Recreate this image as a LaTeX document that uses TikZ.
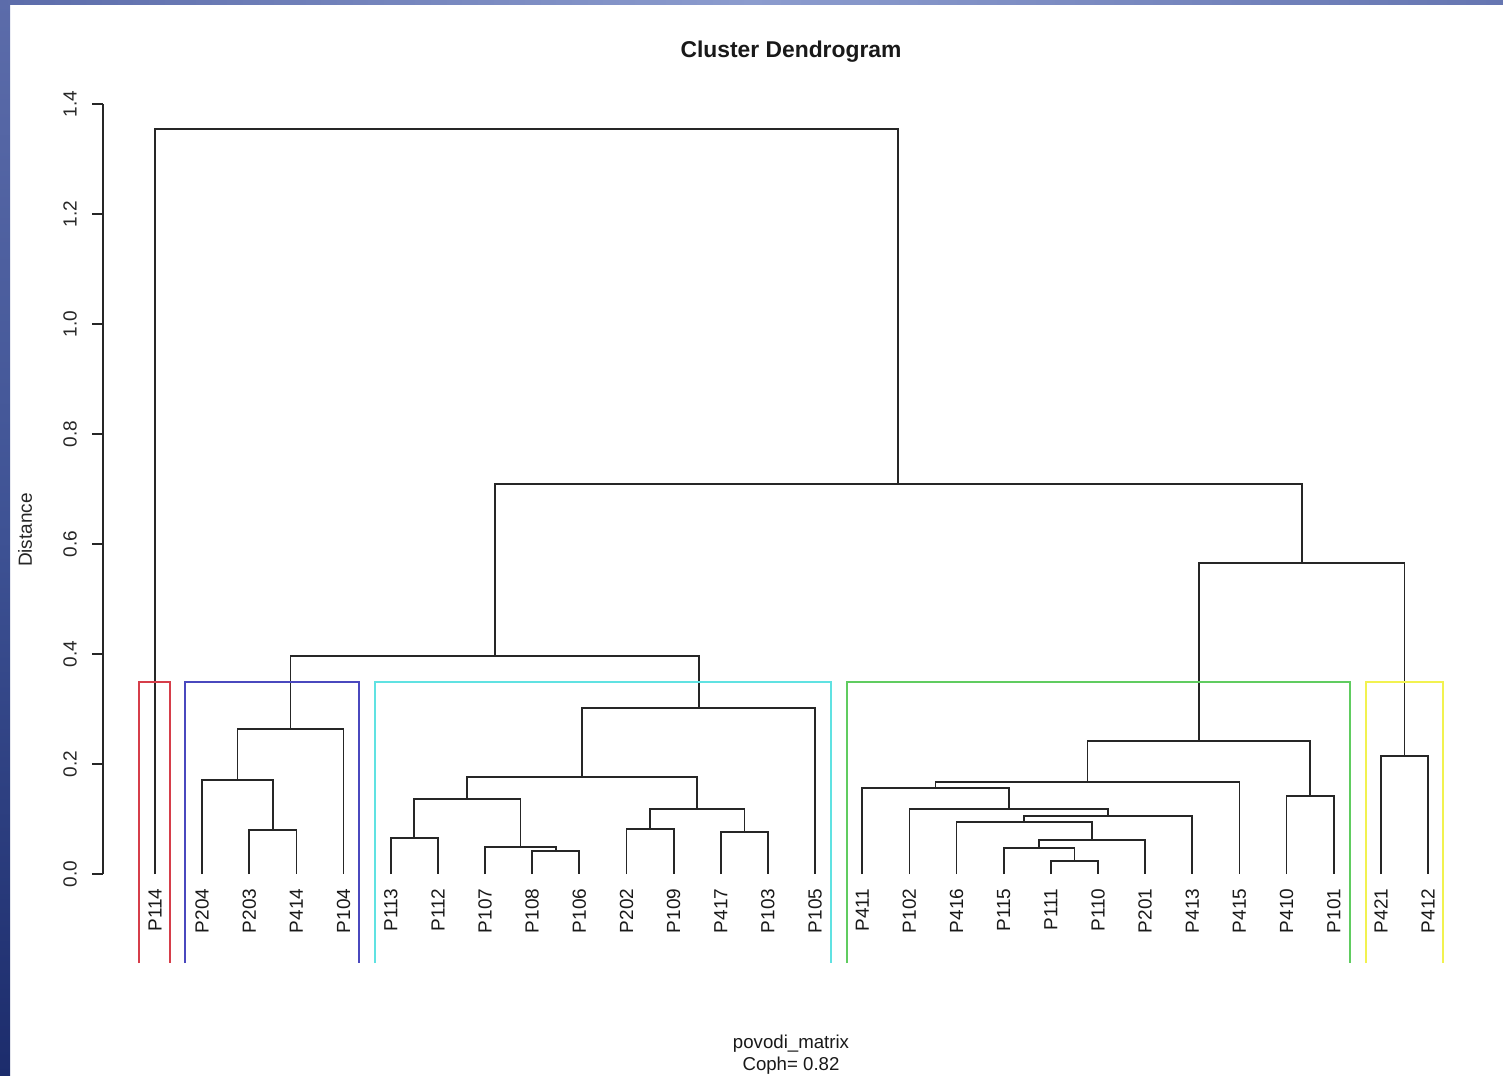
\documentclass[tikz,border=0pt]{standalone}
\usepackage{fontspec}
\setmainfont{Liberation Sans}
\usetikzlibrary{calc}
\definecolor{boxred}{RGB}{214,62,74}
\definecolor{boxblue}{RGB}{74,72,190}
\definecolor{boxcyan}{RGB}{96,226,226}
\definecolor{boxgreen}{RGB}{96,204,96}
\definecolor{boxyellow}{RGB}{242,242,80}
\definecolor{framedark}{RGB}{28,44,108}
\definecolor{framemid}{RGB}{62,82,148}
\definecolor{framelight}{RGB}{92,108,170}
\definecolor{framepale}{RGB}{140,156,206}
\tikzset{
  branch/.style={draw=black!85,line width=0.5pt},
  clusterbox/.style={line width=0.55pt},
  leaflabel/.style={rotate=90,anchor=east,inner sep=0pt,text=black!90,font=\fontsize{5.4}{6}\selectfont},
  ticklabel/.style={rotate=90,inner sep=0pt,text=black!85,font=\fontsize{5.4}{6}\selectfont},
  plaintext/.style={inner sep=0pt,text=black!90,font=\fontsize{5.3}{6}\selectfont}
}
% merge: name, left child, right child, height
\newcommand{\mergeat}[4]{%
  \coordinate (mid) at ($(#2)!.5!(#3)$);
  \coordinate (#1) at (mid |- 0,#4);
  \draw[branch] (#2) |- (#1) -| (#3);}
\begin{document}
\begin{tikzpicture}[x=0.01cm,y=-0.01cm]
\useasboundingbox (0,0) rectangle (1503,1075);
\fill[white] (0,0) rectangle (1503,1075);
% frame
\shade[top color=framelight,bottom color=framedark,middle color=framemid] (0,0) rectangle (10,1075);
\shade[left color=framelight,right color=framelight!80!framepale,middle color=framepale] (0,0) rectangle (1503,4);
% title and axis texts
\node[plaintext,font=\fontsize{6.5}{7}\selectfont\bfseries] (title) at (791,52) {Cluster Dendrogram};
\node[ticklabel] (ylab) at (25,530) {Distance};
\node[plaintext] (xlab) at (791,1044) {povodi\_matrix};
\node[plaintext] (coph) at (791,1066) {Coph= 0.82};
% axis
\draw[branch] (103,874) -- (103,104);
\foreach \v [count=\k from 0] in {0.0,0.2,0.4,0.6,0.8,1.0,1.2,1.4}
  {\draw[branch] (92,{874-110*\k}) -- (103,{874-110*\k});
   \node[ticklabel] (t\k) at (70,{874-110*\k}) {\v};}
% leaves
\foreach \name [count=\i from 0] in {P114,P204,P203,P414,P104,P113,P112,P107,P108,P106,P202,P109,P417,P103,P105,P411,P102,P416,P115,P111,P110,P201,P413,P415,P410,P101,P421,P412}
  {\coordinate (\name) at ({155+47.15*\i},874);
   \node[leaflabel] (l\name) at ({155+47.15*\i},888) {\name};}
% blue group
\mergeat{b1}{P203}{P414}{830}
\mergeat{b2}{P204}{b1}{780}
\mergeat{b3}{b2}{P104}{729}
% cyan group
\mergeat{c1}{P113}{P112}{838}
\mergeat{c2}{P108}{P106}{851}
\mergeat{c3}{P107}{c2}{847}
\mergeat{c4}{c1}{c3}{799}
\mergeat{c5}{P202}{P109}{829}
\mergeat{c6}{P417}{P103}{832}
\mergeat{c7}{c5}{c6}{809}
\mergeat{c8}{c4}{c7}{777}
\mergeat{c9}{c8}{P105}{708}
% green group
\mergeat{g1}{P111}{P110}{861}
\mergeat{g2}{P115}{g1}{848}
\mergeat{g3}{g2}{P201}{840}
\mergeat{g4}{P416}{g3}{822}
\mergeat{g5}{g4}{P413}{816}
\mergeat{g6}{P102}{g5}{809}
\mergeat{g7}{P411}{g6}{788}
\mergeat{g8}{g7}{P415}{782}
\mergeat{g9}{P410}{P101}{796}
\mergeat{g10}{g8}{g9}{741}
% yellow group
\mergeat{y1}{P421}{P412}{756}
% upper levels
\mergeat{n1}{b3}{c9}{656}
\mergeat{n2}{g10}{y1}{563}
\mergeat{n3}{n1}{n2}{484}
\mergeat{root}{P114}{n3}{129}
% cluster rectangles
\draw[clusterbox,boxred] (139,963) |- (170,682) -- (170,963);
\draw[clusterbox,boxblue] (185,963) |- (359,682) -- (359,963);
\draw[clusterbox,boxcyan] (375,963) |- (831,682) -- (831,963);
\draw[clusterbox,boxgreen] (847,963) |- (1350,682) -- (1350,963);
\draw[clusterbox,boxyellow] (1366,963) |- (1443,682) -- (1443,963);
\end{tikzpicture}
\end{document}
